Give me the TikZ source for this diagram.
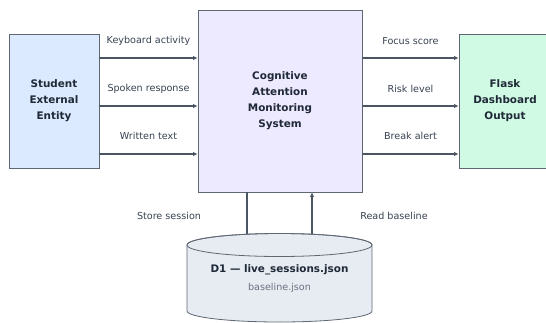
\documentclass[tikz,border=0pt]{standalone}
\usepackage{fontspec}
\setmainfont{DejaVu Sans}
\usetikzlibrary{arrows.meta}

\definecolor{entityfill}{HTML}{DBEAFE}
\definecolor{processfill}{HTML}{EDE9FE}
\definecolor{outputfill}{HTML}{D1FAE5}
\definecolor{storefill}{HTML}{E6ECF2}
\definecolor{edgegrey}{HTML}{4B5563}
\definecolor{boxgrey}{HTML}{5F6773}
\definecolor{darktext}{HTML}{1F2937}
\definecolor{labeltext}{HTML}{374151}
\definecolor{subtext}{HTML}{6B7280}

\newcommand\boxfont{\fontsize{10.4}{16}\selectfont\bfseries}
\newcommand\flowfont{\fontsize{9.6}{11}\selectfont}

\tikzset{
  box/.style={draw=boxgrey, line width=0.8pt, align=center, font=\boxfont, text=darktext},
  flow/.style={draw=edgegrey, line width=1.1pt, -{Latex[length=4.5pt,width=4.5pt]}},
  link/.style={draw=edgegrey, line width=1.1pt},
  flowlabel/.style={font=\flowfont, text=labeltext},
}

\begin{document}
\begin{tikzpicture}[x=1pt,y=-1pt]
  \useasboundingbox (0,0) rectangle (546,322);
  \clip (0,0) rectangle (546,322);

  % entities and process
  \node[box, fill=entityfill, minimum width=90pt, minimum height=134pt] (student) at (54,101) {Student\\External\\Entity};
  \node[box, fill=processfill, minimum width=164pt, minimum height=182pt] (system) at (280,101) {Cognitive\\Attention\\Monitoring\\System};
  \node[box, fill=outputfill, minimum width=92pt, minimum height=134pt] (dashboard) at (505,101) {Flask\\Dashboard\\Output};

  % inputs
  \draw[flow] ([yshift=43pt]student.east) -- ([yshift=43pt]system.west);
  \draw[flow] ([yshift=-5pt]student.east) -- ([yshift=-5pt]system.west);
  \draw[flow] ([yshift=-53pt]student.east) -- ([yshift=-53pt]system.west);
  \node[flowlabel] (kbd) at (148.5,41) {Keyboard activity};
  \node[flowlabel] (spoken) at (148.5,89) {Spoken response};
  \node[flowlabel] (written) at (148.5,136) {Written text};

  % outputs
  \draw[flow] ([yshift=43pt]system.east) -- ([yshift=43pt]dashboard.west);
  \draw[flow] ([yshift=-5pt]system.east) -- ([yshift=-5pt]dashboard.west);
  \draw[flow] ([yshift=-53pt]system.east) -- ([yshift=-53pt]dashboard.west);
  \node[flowlabel] (focus) at (410.5,41) {Focus score};
  \node[flowlabel] (risk) at (410.5,89) {Risk level};
  \node[flowlabel] (brk) at (410.5,136) {Break alert};

  % data store links
  \coordinate (dbtop) at (279.5,245);
  \draw[link] ([xshift=-33pt]system.south) -- ([xshift=-33pt]system.south |- dbtop);
  \draw[flow] ([xshift=32pt]system.south |- dbtop) -- ([xshift=32pt]system.south);
  \node[flowlabel] (storelbl) at (169,216) {Store session};
  \node[flowlabel] (readlbl) at (394,216) {Read baseline};

  % data store
  \filldraw[fill=storefill, draw=boxgrey, line width=0.8pt]
    (187,245) -- (187,311) arc[start angle=180, end angle=360, x radius=92.5pt, y radius=11pt]
    -- (372,245) arc[start angle=0, end angle=180, x radius=92.5pt, y radius=11.5pt] -- cycle;
  \draw[boxgrey, line width=0.8pt] (dbtop) ellipse[x radius=92.5pt, y radius=11.5pt];
  \node[font=\boxfont, text=darktext] (store) at (279.5,270) {D1 — live\_sessions.json};
  \node[font=\flowfont, text=subtext] (storesub) at (279.5,288) {baseline.json};
\end{tikzpicture}
\end{document}
